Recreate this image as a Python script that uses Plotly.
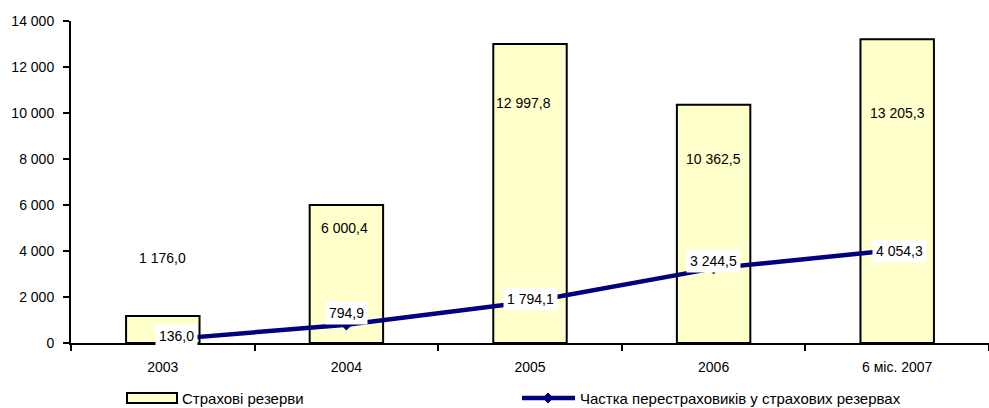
import plotly.graph_objects as go

categories = ["2003", "2004", "2005", "2006", "6 міс. 2007"]
reserves = [1176.0, 6000.4, 12997.8, 10362.5, 13205.3]
reinsurers = [136.0, 794.9, 1794.1, 3244.5, 4054.3]
reserve_label_y = [3700, 5000, 10450, 8000, 10000]
y_ticks = [0, 2000, 4000, 6000, 8000, 10000, 12000, 14000]
series_names = ["Страхові резерви", "Частка перестраховиків у страхових резервах"]

def fmt(v):
    s = f"{v:,.1f}"
    return s.replace(",", " ").replace(".", ",")

FONT = "Liberation Sans, Arial"
NAVY = "#000080"
W, H = 989, 408
L, R, T, B = 71, 0, 21, 65
PW, PH = W - L - R, H - T - B

def px(x):
    return (x - L) / PW

def py(y):
    return (H - B - y) / PH

fig = go.Figure()
fig.add_trace(go.Bar(
    x=categories, y=reserves, name=series_names[0], width=0.4,
    marker=dict(color="#FFFFCC", line=dict(color="black", width=2)),
    hoverinfo="skip",
))
fig.add_trace(go.Scatter(
    x=categories, y=reinsurers, name=series_names[1],
    mode="lines+markers", line=dict(color=NAVY, width=4.5),
    marker=dict(symbol="diamond", size=9, color=NAVY),
    hoverinfo="skip",
))

annotations = []
bar_xshift = [0, -2, -7, 0, 0]
for i, (v, ly, xs) in enumerate(zip(reserves, reserve_label_y, bar_xshift)):
    annotations.append(dict(x=i, y=ly, xref="x", yref="y", text=fmt(v), showarrow=False,
                            xshift=xs, font=dict(family=FONT, size=14, color="black")))
line_xshift = [14, 0, 0, 0, 2]
line_yshift = [4, 12, 3, 7, -1]
for i, (v, xs, ys) in enumerate(zip(reinsurers, line_xshift, line_yshift)):
    annotations.append(dict(x=i, y=v, xref="x", yref="y", text=fmt(v), showarrow=False,
                            xshift=xs, yshift=ys, bgcolor="white", borderpad=3,
                            font=dict(family=FONT, size=14, color="black")))

# legend (drawn manually to match the reference's wide keys)
leg_y = 398
annotations.append(dict(x=px(180), y=py(leg_y), xref="paper", yref="paper",
                        text=series_names[0], showarrow=False, xanchor="left",
                        yanchor="middle", font=dict(family=FONT, size=15, color="black")))
annotations.append(dict(x=px(578), y=py(leg_y), xref="paper", yref="paper",
                        text=series_names[1], showarrow=False, xanchor="left",
                        yanchor="middle", font=dict(family=FONT, size=15, color="black")))
shapes = [
    dict(type="rect", xref="paper", yref="paper", x0=px(127), x1=px(177),
         y0=py(403), y1=py(393), fillcolor="#FFFFCC", line=dict(color="black", width=2)),
    dict(type="line", xref="paper", yref="paper", x0=px(522), x1=px(575),
         y0=py(leg_y), y1=py(leg_y), line=dict(color=NAVY, width=4.5)),
    dict(type="path", xref="paper", yref="paper",
         path=(f"M {px(548)} {py(leg_y - 5)} L {px(553)} {py(leg_y)} "
               f"L {px(548)} {py(leg_y + 5)} L {px(543)} {py(leg_y)} Z"),
         fillcolor=NAVY, line=dict(color=NAVY, width=1)),
]

fig.update_layout(
    width=W, height=H,
    margin=dict(l=L, r=R, t=T, b=B),
    paper_bgcolor="white", plot_bgcolor="white",
    separators=", ",
    font=dict(family=FONT, size=14, color="black"),
    annotations=annotations,
    shapes=shapes,
    showlegend=False,
)
fig.update_xaxes(type="category", range=[-0.5, 4.5], showline=True, linecolor="black",
                 linewidth=2, ticks="outside", tickson="boundaries", ticklen=6,
                 tickwidth=1.5, tickcolor="black", showgrid=False, tickangle=0,
                 ticklabelstandoff=10, automargin=False,
                 tickfont=dict(family=FONT, size=14))
fig.update_yaxes(range=[0, 14000], tickvals=y_ticks, tickformat=",d", showline=True,
                 linecolor="black", linewidth=2, ticks="outside", ticklen=6,
                 tickwidth=1.5, tickcolor="black", showgrid=False, zeroline=False,
                 ticklabelstandoff=6, automargin=False,
                 tickfont=dict(family=FONT, size=14))

fig.write_html("out.html", config={"displayModeBar": False},
               post_script="document.body.style.margin='0';document.body.style.overflow='hidden';")
